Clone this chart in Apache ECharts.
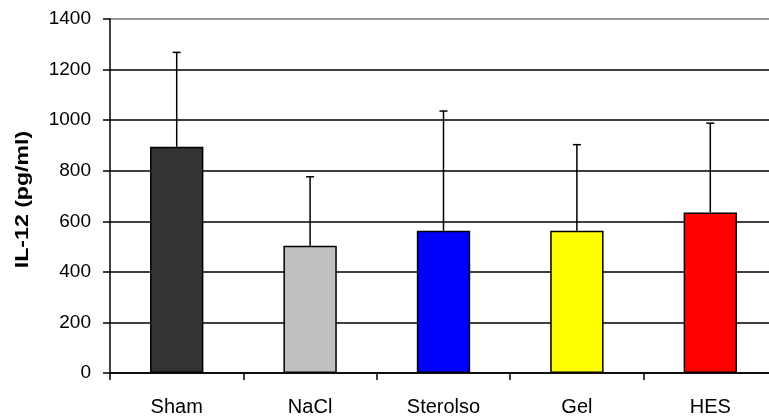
<!DOCTYPE html>
<html>
<head>
<meta charset="utf-8">
<script src="https://cdn.jsdelivr.net/npm/echarts@6/dist/echarts.min.js"></script>
<style>
  html, body { margin: 0; padding: 0; background: #fff; overflow: hidden; }
  #chart { width: 790px; height: 417px; }
</style>
</head>
<body>
<div id="chart"></div>
<script>
// IL-12 concentration per treatment group (mean and upper SD)
const categories = ['Sham', 'NaCl', 'Sterolso', 'Gel', 'HES'];
const means = [895, 503, 563, 563, 635];
const sd = [373, 273, 473, 340, 353];
const barColors = ['#333333', '#c0c0c0', '#0000ff', '#ffff00', '#ff0000'];
const yTicks = { min: 0, max: 1400, interval: 200 };
const yTitle = 'IL-12 (pg/ml)';

const FONT = '"Liberation Sans", Arial, sans-serif';

const chart = echarts.init(document.getElementById('chart'), null, { renderer: 'canvas' });

const errData = means.map((m, i) => [i, m, m + sd[i]]);

chart.setOption({
  animation: false,
  backgroundColor: '#ffffff',
  grid: { left: 110, top: 19, right: 13, height: 354, containLabel: false },
  graphic: [
    {
      type: 'text',
      x: 22.5,
      y: 199.5,
      rotation: Math.PI / 2,
      scaleX: 1.25,
      style: {
        text: yTitle,
        fill: '#000',
        font: 'bold 18.5px ' + FONT,
        textAlign: 'center',
        textVerticalAlign: 'middle'
      }
    }
  ],
  xAxis: {
    type: 'category',
    data: categories,
    boundaryGap: true,
    axisLine: { lineStyle: { color: '#000', width: 1.5 } },
    axisTick: { show: true, alignWithLabel: false, length: 7, lineStyle: { color: '#000', width: 1.5 } },
    axisLabel: { color: '#000', fontFamily: FONT, fontSize: 20, margin: 24 },
    splitLine: { show: false }
  },
  yAxis: {
    type: 'value',
    min: yTicks.min,
    max: yTicks.max,
    interval: yTicks.interval,
    axisLine: { show: true, lineStyle: { color: '#000', width: 1.5 } },
    axisTick: { show: true, length: 7, lineStyle: { color: '#000', width: 1.5 } },
    axisLabel: {
      color: '#000', fontFamily: FONT, fontSize: 19, margin: 19,
      formatter: function (v) { return String(v); }
    },
    splitLine: {
      show: true,
      lineStyle: {
        color: ['#000', '#000', '#000', '#000', '#000', '#000', '#000', '#777'],
        width: 1.5
      }
    }
  },
  series: [
    {
      type: 'bar',
      barWidth: '40%',
      data: means.map((v, i) => ({
        value: v,
        itemStyle: { color: barColors[i], borderColor: '#000', borderWidth: 1.5 }
      })),
      z: 2
    },
    {
      type: 'custom',
      z: 3,
      data: errData,
      renderItem: function (params, api) {
        const x = api.value(0);
        const lo = api.coord([x, api.value(1)]);
        const hi = api.coord([x, api.value(2)]);
        const half = 4;
        const style = { stroke: '#000', lineWidth: 1.5 };
        return {
          type: 'group',
          children: [
            { type: 'line', shape: { x1: lo[0], y1: lo[1], x2: hi[0], y2: hi[1] }, style: style },
            { type: 'line', shape: { x1: hi[0] - half, y1: hi[1], x2: hi[0] + half, y2: hi[1] }, style: style }
          ]
        };
      }
    }
  ]
});
</script>
</body>
</html>
